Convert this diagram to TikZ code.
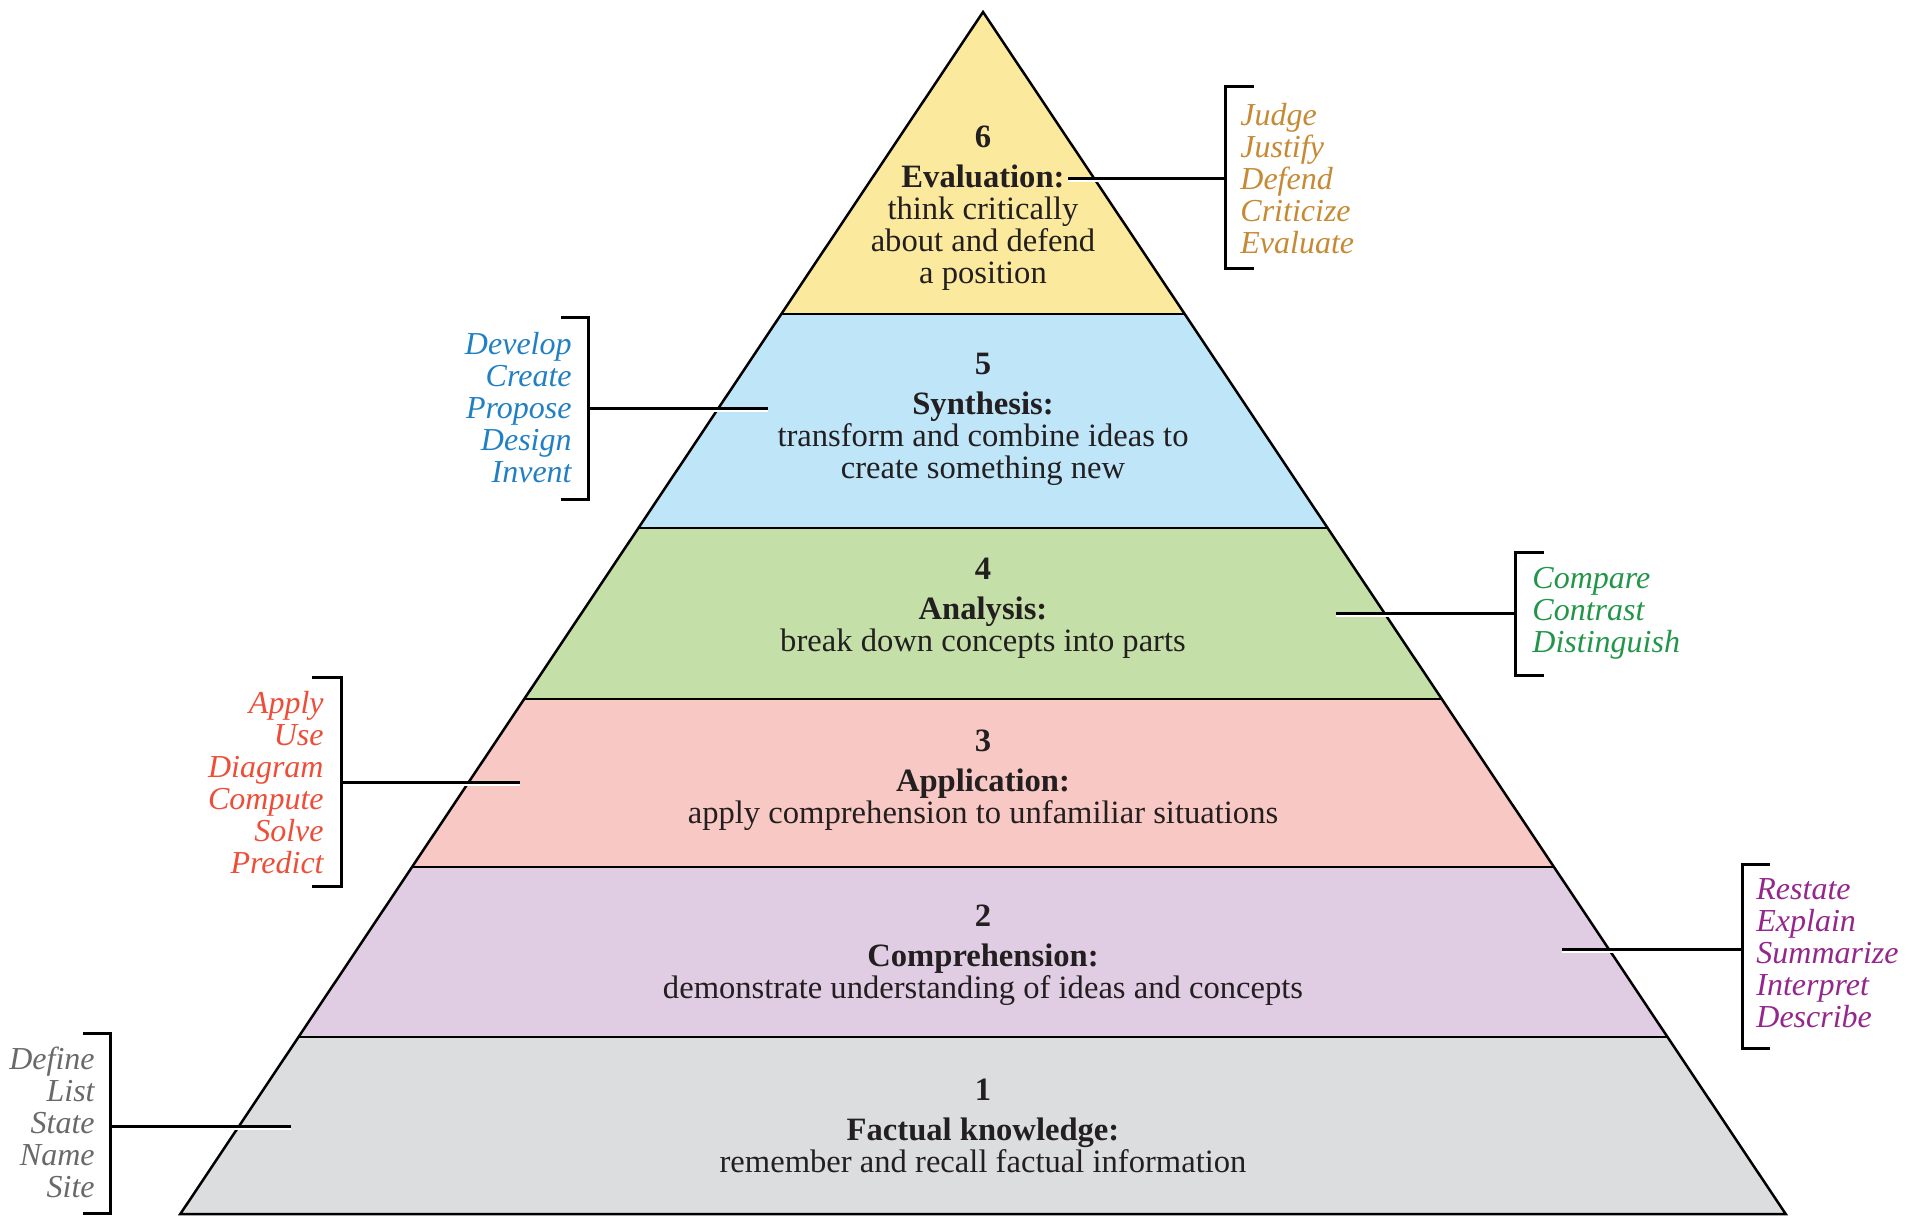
\documentclass[tikz,border=0pt]{standalone}
\usepackage{fontspec}
\setmainfont{Liberation Serif}
\usepackage{tikz}

\definecolor{lvsix}{RGB}{251,234,157}
\definecolor{lvfive}{RGB}{190,229,248}
\definecolor{lvfour}{RGB}{196,223,168}
\definecolor{lvthree}{RGB}{248,200,196}
\definecolor{lvtwo}{RGB}{224,205,227}
\definecolor{lvone}{RGB}{220,221,223}
\definecolor{vsix}{RGB}{198,138,53}
\definecolor{vfive}{RGB}{33,128,196}
\definecolor{vfour}{RGB}{33,150,72}
\definecolor{vthree}{RGB}{238,78,56}
\definecolor{vtwo}{RGB}{148,38,140}
\definecolor{vone}{RGB}{105,105,105}
\definecolor{txtdark}{RGB}{35,31,32}

\tikzset{
	level/.style={align=center, text=txtdark, inner sep=0pt, font=\fontsize{16.3}{16}\selectfont},
	verbs/.style={inner sep=0pt, font=\fontsize{16}{16}\selectfont\itshape},
	brace/.style={line width=1.5pt, line cap=rect},
	link/.style={line width=1.5pt},
	halo/.style={white, line width=1pt},
}

\begin{document}
\begin{tikzpicture}[x=0.5pt,y=-0.5pt]
	\useasboundingbox (0,0) rectangle (1925,1216);

	% layers of the pyramid
	\foreach \ya/\yb/\col in {12/314/lvsix, 314/528/lvfive, 528/699/lvfour, 699/867/lvthree, 867/1037/lvtwo, 1037/1214/lvone}
		\fill[\col] ({983-(\ya-12)*0.6678},\ya) -- ({983+(\ya-12)*0.6678},\ya) -- ({983+(\yb-12)*0.6678},\yb) -- ({983-(\yb-12)*0.6678},\yb) -- cycle;
	\foreach \y in {314,528,699,867,1037}
		\draw[line width=1.25pt] ({983-(\y-12)*0.6678},\y) -- ({983+(\y-12)*0.6678},\y);
	\draw[line width=1.25pt, line join=miter] (983,12) -- ({983-1202*0.6678},1214) -- ({983+1202*0.6678},1214) -- cycle;

	% texts of the levels
	\node[level] (l6) at (983,208) {{\bfseries 6}\\[4pt] {\bfseries Evaluation:}\\ think critically\\ about and defend\\ a position};
	\node[level] (l5) at (983,419) {{\bfseries 5}\\[4pt] {\bfseries Synthesis:}\\ transform and combine ideas to\\ create something new};
	\node[level] (l4) at (983,608) {{\bfseries 4}\\[4pt] {\bfseries Analysis:}\\ break down concepts into parts};
	\node[level] (l3) at (983,780) {{\bfseries 3}\\[4pt] {\bfseries Application:}\\ apply comprehension to unfamiliar situations};
	\node[level] (l2) at (983,955) {{\bfseries 2}\\[4pt] {\bfseries Comprehension:}\\ demonstrate understanding of ideas and concepts};
	\node[level] (l1) at (983,1126) {{\bfseries 1}\\[4pt] {\bfseries Factual knowledge:}\\ remember and recall factual information};

	% verb lists
	\node[verbs, text=vsix, anchor=west, align=left] (w6) at (1240,179) {Judge\\ Justify\\ Defend\\ Criticize\\ Evaluate};
	\node[verbs, text=vfive, anchor=east, align=right] (w5) at (572,408) {Develop\\ Create\\ Propose\\ Design\\ Invent};
	\node[verbs, text=vfour, anchor=west, align=left] (w4) at (1532,613) {Compare\\ Contrast\\ Distinguish};
	\node[verbs, text=vthree, anchor=east, align=right] (w3) at (324,783) {Apply\\ Use\\ Diagram\\ Compute\\ Solve\\ Predict};
	\node[verbs, text=vtwo, anchor=west, align=left] (w2) at (1756,953) {Restate\\ Explain\\ Summarize\\ Interpret\\ Describe};
	\node[verbs, text=vone, anchor=east, align=right] (w1) at (95,1122) {Define\\ List\\ State\\ Name\\ Site};

	% connector ends
	\coordinate (c6) at (1068,178);  \coordinate (e6) at (1100,178);  \coordinate (b6) at (1225,178);
	\coordinate (c5) at (768,408);   \coordinate (e5) at (713,408);   \coordinate (b5) at (588,408);
	\coordinate (c4) at (1336,613);  \coordinate (e4) at (1390,613);  \coordinate (b4) at (1515,613);
	\coordinate (c3) at (520,782);   \coordinate (e3) at (463,782);   \coordinate (b3) at (341,782);
	\coordinate (c2) at (1562,949);  \coordinate (e2) at (1614,949);  \coordinate (b2) at (1742,949);
	\coordinate (c1) at (291,1126);  \coordinate (e1) at (233,1126);  \coordinate (b1) at (110,1126);

	\foreach \n in {1,...,6}
		\draw[halo] ([yshift=-1.3pt]c\n) -- ([yshift=-1.3pt]e\n);
	\foreach \n in {1,...,6}
		\draw[link] (c\n) -- (b\n);

	% brackets
	\draw[brace] (1252,86) -- (1225,86) -- (1225,268) -- (1252,268);
	\draw[brace] (562,317) -- (588,317) -- (588,499) -- (562,499);
	\draw[brace] (1542,552) -- (1515,552) -- (1515,675) -- (1542,675);
	\draw[brace] (313,677) -- (341,677) -- (341,886) -- (313,886);
	\draw[brace] (1768,864) -- (1742,864) -- (1742,1048) -- (1768,1048);
	\draw[brace] (84,1033) -- (110,1033) -- (110,1213) -- (84,1213);
\end{tikzpicture}
\end{document}
